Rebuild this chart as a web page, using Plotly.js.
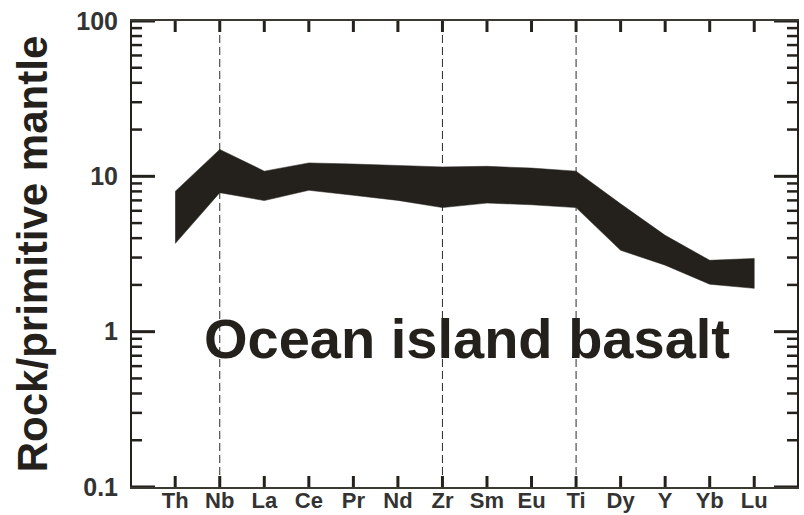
<!DOCTYPE html>
<html>
<head>
<meta charset="utf-8">
<script src="https://cdn.plot.ly/plotly-3.0.1.min.js"></script>
<style>html,body{margin:0;padding:0;background:#fff;}#chart{width:804px;height:515px;}</style>
</head>
<body>
<div id="chart"></div>
<script>
const elements = ["Th","Nb","La","Ce","Pr","Nd","Zr","Sm","Eu","Ti","Dy","Y","Yb","Lu"];
const upperBound = [8.0, 14.9, 10.8, 12.2, 12.0, 11.7, 11.5, 11.6, 11.3, 10.8, 6.65, 4.17, 2.88, 2.96];
const lowerBound = [3.69, 7.85, 6.98, 8.13, 7.55, 7.0, 6.29, 6.73, 6.56, 6.29, 3.34, 2.68, 2.02, 1.90];
const dashedElements = ["Nb","Zr","Ti"];
const yTickVals = [0.1, 1, 10, 100];
const yTickText = ["0.1","1","10","100"];
const yMinorVals = [0.2,0.3,0.4,0.5,0.6,0.7,0.8,0.9, 2,3,4,5,6,7,8,9, 20,30,40,50,60,70,80,90];
const labelText = "Ocean island basalt";
const yTitle = "Rock/primitive mantle";

const ink = "#24211c";
const font = "Liberation Sans, Arial, sans-serif";

const W = 804, H = 515;
const margin = {l:132, r:7, t:21, b:28};
const xRange = [-0.97, 13.96];
const yRangeLog = [-1, 2];
const xPerPx = (xRange[1] - xRange[0]) / (W - margin.l - margin.r);
const decPerPx = (yRangeLog[1] - yRangeLog[0]) / (H - margin.t - margin.b);
const idx = elements.map(function(e, i){ return i; });

const traces = [];
dashedElements.forEach(function(el){
  const i = elements.indexOf(el);
  traces.push({
    x:[i, i], y:[yTickVals[0], yTickVals[yTickVals.length-1]], mode:"lines", type:"scatter",
    line:{color:"#2a2a2a", width:1, dash:"8px,4px"}, hoverinfo:"skip", showlegend:false
  });
});
traces.push({
  x: idx.concat(idx.slice().reverse()),
  y: upperBound.concat(lowerBound.slice().reverse()),
  type:"scatter", mode:"lines", fill:"toself",
  fillcolor:ink, line:{color:ink, width:0.5}, hoverinfo:"skip", showlegend:false
});

// inside tick marks on all four sides, one small segment per tick, placed on the axis scales
function seg(xs, ys, width){
  traces.push({x:xs, y:ys, type:"scatter", mode:"lines", line:{color:ink, width:width},
    hoverinfo:"skip", showlegend:false, cliponaxis:false});
}
function yTicks(vals, lenPx, width){
  const d = lenPx * xPerPx;
  vals.forEach(function(v){
    seg([xRange[0], xRange[0] + d], [v, v], width);
    seg([xRange[1] - d, xRange[1]], [v, v], width);
  });
}
yTicks(yTickVals, 23, 3);
yTicks(yMinorVals, 10, 2.5);
const dX = 11 * decPerPx;
idx.forEach(function(i){
  seg([i, i], [Math.pow(10, yRangeLog[0]), Math.pow(10, yRangeLog[0] + dX)], 3);
  seg([i, i], [Math.pow(10, yRangeLog[1] - dX), Math.pow(10, yRangeLog[1])], 3);
});

const layout = {
  width:W, height:H,
  margin:margin,
  paper_bgcolor:"#fff", plot_bgcolor:"#fff",
  showlegend:false,
  xaxis:{
    type:"linear", range:xRange, tickmode:"array", tickvals:idx, ticktext:elements,
    showgrid:false, zeroline:false, showline:true, linecolor:"#3a3a30", linewidth:2,
    mirror:true, ticks:"",
    ticklabelstandoff:-7,
    tickfont:{family:font, size:22, color:"#333", weight:"bold"}
  },
  yaxis:{
    type:"log", range:yRangeLog, tickmode:"array", tickvals:yTickVals, ticktext:yTickText,
    showgrid:false, zeroline:false, showline:true, linecolor:ink, linewidth:2,
    mirror:true, ticks:"",
    ticklabelstandoff:7,
    tickfont:{family:font, size:25, color:"#333", weight:"bold"},
    title:{text:yTitle, font:{family:font, size:42, color:ink, weight:"bold"}, standoff:16}
  },
  annotations:[{
    text:labelText, xref:"paper", yref:"paper", x:0.504, y:0.318,
    xanchor:"center", yanchor:"middle", showarrow:false,
    font:{family:font, size:56, color:ink, weight:"bold"}
  }]
};

Plotly.newPlot("chart", traces, layout, {displayModeBar:false, staticPlot:true});
</script>
</body>
</html>
